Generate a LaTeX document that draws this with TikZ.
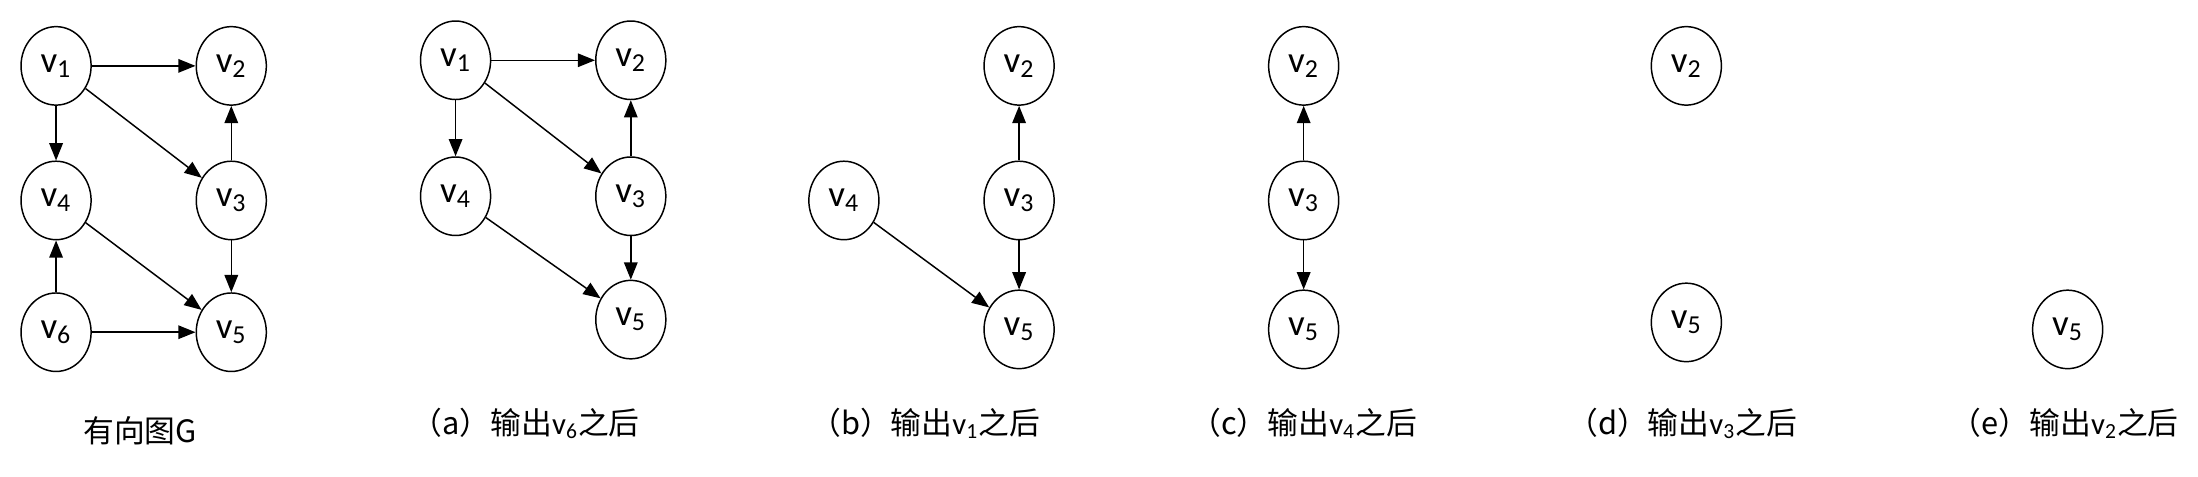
\documentclass[tikz,border=0pt]{standalone}
\usepackage{fontspec}
\setmainfont{Carlito}
\newfontfamily\cjk{Noto Sans CJK SC}
\usetikzlibrary{shapes.geometric,arrows.meta}
\newcommand{\vx}[1]{v\textsubscript{#1}}
\begin{document}
\begin{tikzpicture}[x=0.02cm,y=-0.02cm,
  vtx/.style={ellipse,draw,semithick,minimum width=1cm,minimum height=1.12cm,inner sep=0pt,font=\fontsize{15}{17}\selectfont},
  title/.style={font=\cjk\fontsize{12.5}{14}\selectfont},
  arc/.style={draw,semithick,-{Triangle[length=7pt,width=5.5pt]}}]
\useasboundingbox (0,0) rectangle (1568,340);
% directed graph G
\node[vtx] (g1) at (40,47) {\vx1};
\node[vtx] (g2) at (165,47) {\vx2};
\node[vtx] (g4) at (40,143) {\vx4};
\node[vtx] (g3) at (165,143) {\vx3};
\node[vtx] (g6) at (40,237) {\vx6};
\node[vtx] (g5) at (165,237) {\vx5};
\draw[arc] (g1) -- (g2);
\draw[arc] (g1) -- (g4);
\draw[arc] (g1) -- (g3);
\draw[arc] (g3) -- (g2);
\draw[arc] (g3) -- (g5);
\draw[arc] (g4) -- (g5);
\draw[arc] (g6) -- (g4);
\draw[arc] (g6) -- (g5);
\node[title] (lg) at (100,307) {有向图G};
% (a)
\node[vtx] (a1) at (325,43) {\vx1};
\node[vtx] (a2) at (450,43) {\vx2};
\node[vtx] (a4) at (325,140) {\vx4};
\node[vtx] (a3) at (450,140) {\vx3};
\node[vtx] (a5) at (450,228) {\vx5};
\draw[arc] (a1) -- (a2);
\draw[arc] (a1) -- (a4);
\draw[arc] (a1) -- (a3);
\draw[arc] (a3) -- (a2);
\draw[arc] (a3) -- (a5);
\draw[arc] (a4) -- (a5);
\node[title] (la) at (375,302) {（a）输出{\rmfamily\vx6}之后};
% (b)
\node[vtx] (b2) at (727,47) {\vx2};
\node[vtx] (b4) at (602,143) {\vx4};
\node[vtx] (b3) at (727,143) {\vx3};
\node[vtx] (b5) at (727,235) {\vx5};
\draw[arc] (b3) -- (b2);
\draw[arc] (b3) -- (b5);
\draw[arc] (b4) -- (b5);
\node[title] (lb) at (660,302) {（b）输出{\rmfamily\vx1}之后};
% (c)
\node[vtx] (c2) at (930,47) {\vx2};
\node[vtx] (c3) at (930,143) {\vx3};
\node[vtx] (c5) at (930,235) {\vx5};
\draw[arc] (c3) -- (c2);
\draw[arc] (c3) -- (c5);
\node[title] (lc) at (930,302) {（c）输出{\rmfamily\vx4}之后};
% (d)
\node[vtx] (d2) at (1203,47) {\vx2};
\node[vtx] (d5) at (1203,230) {\vx5};
\node[title] (ld) at (1200,302) {（d）输出{\rmfamily\vx3}之后};
% (e)
\node[vtx] (e5) at (1475,235) {\vx5};
\node[title] (le) at (1473,302) {（e）输出{\rmfamily\vx2}之后};
\end{tikzpicture}
\end{document}
